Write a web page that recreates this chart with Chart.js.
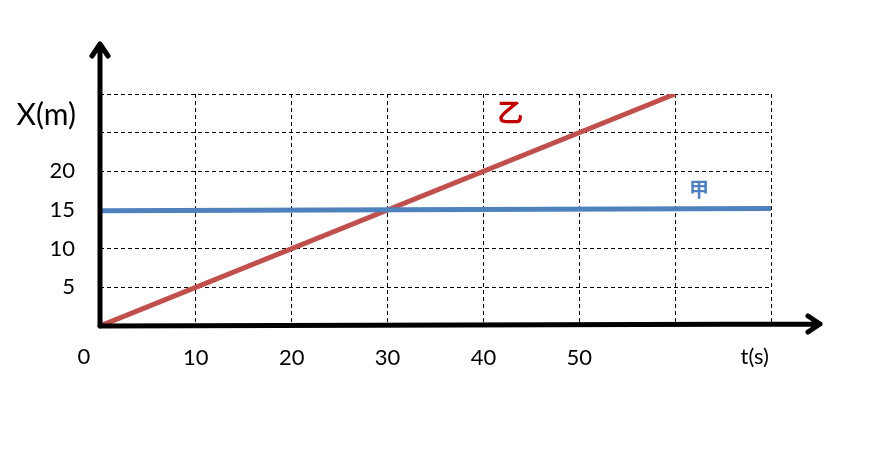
<!DOCTYPE html>
<html>
<head>
<meta charset="utf-8">
<script src="https://cdn.jsdelivr.net/npm/chart.js@4"></script>
<style>
  html, body { margin: 0; padding: 0; background: #fff; }
  #wrap { width: 890px; height: 451px; }
</style>
</head>
<body>
<div id="wrap"><canvas id="xtChart"></canvas></div>
<script>
// data
const timeTicks = [10, 20, 30, 40, 50];
const posTicks = [5, 10, 15, 20];
const yiT = [0, 60];          // 乙
const yiX = [0, 30];
const jiaT = [0, 70];         // 甲
const jiaX = [14.9, 15.2];
const xMax = 70, yMax = 30;

const font = "Lato, 'Open Sans', sans-serif";

// draws the arrow axes and the extra labels
const extras = {
  id: 'extras',
  afterDatasetsDraw(chart) {
    const ctx = chart.ctx;
    const xs = chart.scales.x, ys = chart.scales.y;
    const x0 = xs.getPixelForValue(0), y0 = ys.getPixelForValue(0);
    ctx.save();
    ctx.strokeStyle = '#000';
    ctx.lineWidth = 5;
    ctx.lineCap = 'round';
    ctx.lineJoin = 'round';
    // y axis
    ctx.beginPath();
    ctx.moveTo(x0, y0);
    ctx.lineTo(x0, 44);
    ctx.moveTo(x0 - 8, 56);
    ctx.lineTo(x0, 44);
    ctx.lineTo(x0 + 8, 56);
    ctx.stroke();
    // x axis
    ctx.beginPath();
    ctx.moveTo(x0, y0);
    ctx.lineTo(820, y0 - 2);
    ctx.moveTo(808, y0 - 10);
    ctx.lineTo(820, y0 - 2);
    ctx.lineTo(808, y0 + 6);
    ctx.stroke();

    ctx.fillStyle = '#000';
    ctx.textBaseline = 'middle';
    ctx.font = '22px ' + font;
    ctx.textAlign = 'center';
    ctx.fillText('0', x0 - 16, 357);
    ctx.fillText('t(s)', xs.getPixelForValue(68.3), 357);
    ctx.font = '30px ' + font;
    ctx.textAlign = 'right';
    ctx.fillText('X(m)', 76, ys.getPixelForValue(27.2));

    ctx.textAlign = 'center';
    ctx.font = 'bold 26px "Noto Sans CJK SC", sans-serif';
    ctx.fillStyle = '#c00000';
    ctx.fillText('乙', xs.getPixelForValue(42.8), ys.getPixelForValue(27.6));
    ctx.font = 'bold 20px "Noto Sans CJK SC", sans-serif';
    ctx.fillStyle = '#4f81bd';
    ctx.fillText('甲', xs.getPixelForValue(62.5), ys.getPixelForValue(17.6));
    ctx.restore();
  }
};

new Chart(document.getElementById('xtChart'), {
  type: 'scatter',
  data: {
    datasets: [
      {
        label: '甲',
        data: jiaT.map((t, i) => ({ x: t, y: jiaX[i] })),
        showLine: true,
        borderColor: '#4f81bd',
        borderWidth: 5,
        pointRadius: 0
      },
      {
        label: '乙',
        data: yiT.map((t, i) => ({ x: t, y: yiX[i] })),
        showLine: true,
        borderColor: '#c0504d',
        borderWidth: 5,
        pointRadius: 0
      }
    ]
  },
  options: {
    responsive: true,
    maintainAspectRatio: false,
    animation: false,
    layout: { padding: { left: 0, top: 94, right: 119, bottom: 0 } },
    plugins: { legend: { display: false }, tooltip: { enabled: false } },
    scales: {
      x: {
        type: 'linear', min: 0, max: xMax,
        afterBuildTicks: s => { s.ticks = [0, 10, 20, 30, 40, 50, 60, 70].map(v => ({ value: v })); },
        afterFit: s => { s.height = 125; },
        border: { display: false, dash: [4, 3] },
        grid: { color: c => c.tick && c.tick.value === 0 ? 'rgba(0,0,0,0)' : '#000', lineWidth: 1, drawTicks: false },
        ticks: {
          padding: 19,
          color: '#000',
          font: { size: 22, family: font },
          callback: v => timeTicks.includes(v) ? String(v) : ''
        }
      },
      y: {
        type: 'linear', min: 0, max: yMax,
        afterBuildTicks: s => { s.ticks = [0, 5, 10, 15, 20, 25, 30].map(v => ({ value: v })); },
        afterFit: s => { s.width = 100; },
        border: { display: false, dash: [4, 3] },
        grid: { color: c => c.tick && c.tick.value === 0 ? 'rgba(0,0,0,0)' : '#000', lineWidth: 1, drawTicks: false },
        ticks: {
          padding: 25,
          color: '#000',
          font: { size: 22, family: font },
          callback: v => posTicks.includes(v) ? String(v) : ''
        }
      }
    }
  },
  plugins: [extras]
});
</script>
</body>
</html>
